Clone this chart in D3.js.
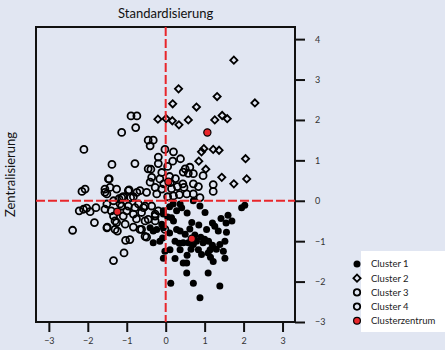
<!DOCTYPE html>
<html>
<head>
<meta charset="utf-8">
<script src="https://cdn.jsdelivr.net/npm/d3@7"></script>
<style>
  body { margin: 0; background: #e1e6f2; }
  svg { display: block; font-family: Lato, "Open Sans", sans-serif; }
</style>
</head>
<body>
<svg></svg>
<script>
// cluster points [Standardisierung, Zentralisierung]
const cluster1 = [
  [1.95,-0.17],[2.03,-0.11],[1.6,-0.36],[1.42,-0.44],[1.01,-0.29],[0.67,-0.54],[1.26,-0.63],[1.05,-0.71],
  [1.35,-0.75],[1.56,-0.78],[1.52,-1.0],[1.39,-1.08],[1.48,-1.25],[1.52,-1.42],[1.22,-1.5],[1.09,-1.29],
  [0.92,-1.33],[0.54,-1.54],[0.45,-1.54],[0.54,-1.79],[1.09,-1.79],[0.71,-2.04],[1.39,-2.11],[0.13,-2.04],
  [0.88,-2.4],[0.24,-1.43],[0.24,-1.0],[0.11,-1.21],[0.37,-1.21],[0.79,-1.0],[0.96,-1.04],[1.14,-1.21],
  [0.84,-1.21],[0.71,-1.08],[0.28,-0.71],[0.2,-0.5],[0.37,-0.75],[0.5,-0.83],[0.45,-1.04],[0.58,-1.04],
  [-0.06,-0.33],[-0.06,-0.67],[-0.08,-0.92],[-0.02,-1.25],[-0.06,-1.42],[0.28,-0.25],[0.41,-0.17],[0.19,-0.08],
  [0.37,-0.08],[0.88,-0.13],[0.71,0.0],[-0.32,-0.75],[-0.4,-0.67],[-0.23,-0.71],[-0.1,-0.58],[-0.32,-1.04],
  [-0.15,-1.0],[-0.06,-0.25],[0.15,-0.42],[0.55,-0.3],[0.62,-0.7],[0.75,-0.85],[0.9,-0.9],[1.0,-0.95],
  [1.1,-1.0],[1.2,-1.1],[1.3,-1.2],[0.65,-1.2],[0.55,-1.35],[1.15,-1.4],[0.35,-1.05],[0.1,-0.8],
  [0.05,-0.4],[0.1,-0.15],[1.55,-0.55],[1.7,-0.5],[0.85,-0.6],[1.2,-0.55]
];
const cluster2 = [
  [1.75,3.48],[0.33,2.77],[1.32,2.58],[2.29,2.42],[0.18,2.4],[0.79,2.32],[0.01,2.03],[0.17,1.98],
  [0.34,1.88],[0.58,2.0],[1.26,2.0],[1.45,2.11],[1.58,2.03],[-0.2,2.02],[0.98,1.29],[0.92,1.21],
  [1.22,1.27],[1.37,1.25],[2.05,1.04],[0.85,0.98],[1.03,0.78],[1.44,0.58],[1.75,0.42],[2.08,0.54]
];
const cluster3 = [
  [-2.1,1.27],[-1.13,1.69],[-1.38,0.9],[-1.45,0.54],[-2.15,0.23],[-2.07,0.29],[-1.56,0.29],[-1.51,0.17],
  [-1.26,0.29],[-0.94,0.27],[-0.66,0.25],[-0.83,0.1],[-1.09,0.1],[-1.34,0.0],[-2.22,-0.25],[-2.03,-0.18],
  [-1.94,-0.27],[-1.79,-0.17],[-2.39,-0.73],[-1.83,-0.54],[-1.51,-0.67],[-1.26,-0.54],[-1.3,-0.71],[-1.04,-0.58],
  [-0.83,-0.65],[-0.62,-0.71],[-1.03,-0.98],[-0.92,-0.96],[-1.07,-1.29],[-1.34,-1.48],[-1.56,-0.21],[-1.13,-0.13],
  [-0.96,-0.13],[-0.79,-0.17],[-0.62,-0.29],[-0.53,-0.13],[-0.36,-0.13],[-0.27,-0.33],[-0.19,-0.25],[-0.45,-0.46],
  [-0.27,-0.5],[-0.53,-0.88],[-1.47,0.54],[-1.43,0.33],[-1.56,0.21],[-1.13,0.08],[-0.96,0.25],[-0.9,0.08],
  [-0.74,0.21],[-1.5,-0.65],[-1.3,-0.5],[-1.24,-0.75],[-0.66,-0.71],[-0.49,-0.9],[-0.53,-0.5],[-0.27,-0.38],
  [-0.57,-0.17],[-2.11,-0.21],[-1.51,-0.08],[-1.17,-0.08],[-0.7,-0.08],[-1.34,-0.38],[-1.09,-0.38],[-0.83,-0.33],
  [-1.2,0.05],[-1.0,-0.25],[-0.75,-0.45],[-1.4,-0.25],[-0.02,-0.71]
];
const cluster4 = [
  [-0.89,2.1],[-0.74,2.1],[-0.77,1.81],[-0.45,1.5],[-0.32,1.5],[-0.4,1.36],[-0.79,0.92],[-0.02,1.27],
  [-0.19,1.08],[-0.19,0.92],[-0.38,0.78],[0.2,1.21],[0.38,1.04],[0.18,0.98],[0.5,0.79],[0.62,0.83],
  [0.71,0.67],[0.96,0.62],[0.58,0.68],[0.45,0.71],[0.44,0.42],[0.47,0.33],[0.71,0.42],[0.84,0.35],
  [1.22,0.4],[1.22,0.23],[0.71,0.17],[0.88,0.08],[0.54,0.17],[-0.45,0.79],[-0.4,0.46],[-0.36,0.58],
  [-0.15,0.54],[-0.27,0.33],[-0.1,0.29],[-0.49,0.21],[-0.23,0.17],[-0.1,0.7],[0.05,0.85],[0.1,0.6],
  [0.25,0.55],[0.3,0.35],[0.15,0.3],[0.35,0.15],[0.2,0.12],[0.05,0.1],[0.12,0.45],[-0.05,0.42]
];
const centroids = [[0.67,-0.94],[1.07,1.69],[-1.24,-0.27],[0.07,0.47]];

const xTicks = [-3, -2, -1, 0, 1, 2, 3];
const yTicks = [-3, -2, -1, 0, 1, 2, 3, 4];
const legendLabels = ["Cluster 1", "Cluster 2", "Cluster 3", "Cluster 4", "Clusterzentrum"];

const width = 445, height = 350;
const plotLeft = 36, plotRight = 295, plotTop = 27, plotBottom = 322;

const svg = d3.select('svg')
    .attr('width', width)
    .attr('height', height)
    .style('background-color', '#e1e6f2');

const x = d3.scaleLinear().domain([-3.33, 3.32]).range([plotLeft, plotRight]);
const y = d3.scaleLinear().domain([-3, 4.3]).range([plotBottom, plotTop]);

// axes
const xAxis = svg.append('g')
    .attr('transform', `translate(0, ${plotBottom})`)
    .call(d3.axisBottom(x).tickValues(xTicks).tickFormat(d3.format('d')).tickSize(10).tickPadding(6));
const yAxis = svg.append('g')
    .attr('transform', `translate(${plotRight}, 0)`)
    .call(d3.axisRight(y).tickValues(yTicks).tickFormat(d3.format('d')).tickSize(10).tickPadding(10));

[xAxis, yAxis].forEach(a => {
    a.select('.domain').remove();
    a.selectAll('line').attr('stroke', '#111').attr('stroke-width', 2);
    a.selectAll('text').attr('fill', '#333').style('font-size', '9px').style('font-family', 'Lato, sans-serif');
});

// frame
svg.append('rect')
    .attr('x', plotLeft).attr('y', plotTop)
    .attr('width', plotRight - plotLeft).attr('height', plotBottom - plotTop)
    .attr('fill', 'none').attr('stroke', '#111').attr('stroke-width', 2);

const plot = svg.append('g');

plot.selectAll('.c3').data(cluster3).join('circle')
    .attr('class', 'c3')
    .attr('cx', d => x(d[0])).attr('cy', d => y(d[1]))
    .attr('r', 3.5).attr('fill', 'none').attr('stroke', '#000').attr('stroke-width', 1.8);

plot.selectAll('.c4').data(cluster4).join('circle')
    .attr('class', 'c4')
    .attr('cx', d => x(d[0])).attr('cy', d => y(d[1]))
    .attr('r', 3.5).attr('fill', 'none').attr('stroke', '#000').attr('stroke-width', 1.8);

plot.selectAll('.c1').data(cluster1).join('circle')
    .attr('class', 'c1')
    .attr('cx', d => x(d[0])).attr('cy', d => y(d[1]))
    .attr('r', 3.5).attr('fill', '#000');

const diamond = d3.symbol().type(d3.symbolSquare).size(26);
plot.selectAll('.c2').data(cluster2).join('path')
    .attr('class', 'c2')
    .attr('d', diamond)
    .attr('transform', d => `translate(${x(d[0])}, ${y(d[1])}) rotate(45)`)
    .attr('fill', 'none').attr('stroke', '#000').attr('stroke-width', 1.8);

// zero lines
svg.append('line')
    .attr('x1', x(0)).attr('x2', x(0)).attr('y1', plotTop).attr('y2', plotBottom)
    .attr('stroke', '#e8262b').attr('stroke-width', 2).attr('stroke-dasharray', '9,3');
svg.append('line')
    .attr('x1', plotLeft).attr('x2', plotRight).attr('y1', y(0)).attr('y2', y(0))
    .attr('stroke', '#e8262b').attr('stroke-width', 2).attr('stroke-dasharray', '9,3');

svg.selectAll('.cent').data(centroids).join('circle')
    .attr('class', 'cent')
    .attr('cx', d => x(d[0])).attr('cy', d => y(d[1]))
    .attr('r', 3.6).attr('fill', '#e8262b').attr('stroke', '#000').attr('stroke-width', 1.2);

// titles
svg.append('text')
    .attr('x', x(0)).attr('y', 18)
    .attr('text-anchor', 'middle')
    .style('font-size', '13px').attr('fill', '#111')
    .text('Standardisierung');

svg.append('text')
    .attr('transform', `translate(15, ${(plotTop + plotBottom) / 2}) rotate(-90)`)
    .attr('text-anchor', 'middle')
    .style('font-size', '13px').attr('fill', '#111')
    .text('Zentralisierung');

// legend
const legend = svg.append('g');
legend.append('rect')
    .attr('x', 361).attr('y', 251).attr('width', 84).attr('height', 81)
    .attr('fill', '#fff');

const items = legend.selectAll('.item').data(legendLabels).join('g')
    .attr('class', 'item')
    .attr('transform', (d, i) => `translate(357, ${264 + i * 14.2})`);

items.each(function(d, i) {
    const g = d3.select(this);
    if (i === 0) g.append('circle').attr('r', 3.5).attr('fill', '#000');
    else if (i === 1) g.append('path').attr('d', diamond).attr('transform', 'rotate(45)')
        .attr('fill', 'none').attr('stroke', '#000').attr('stroke-width', 1.8);
    else if (i === 4) g.append('circle').attr('r', 3.4).attr('fill', '#e8262b')
        .attr('stroke', '#000').attr('stroke-width', 1.2);
    else g.append('circle').attr('r', 3.2).attr('fill', 'none')
        .attr('stroke', '#000').attr('stroke-width', 1.8);
});

items.append('text')
    .attr('x', 14).attr('dy', '0.35em')
    .style('font-size', '9.5px').attr('fill', '#222')
    .text(d => d);
</script>
</body>
</html>
